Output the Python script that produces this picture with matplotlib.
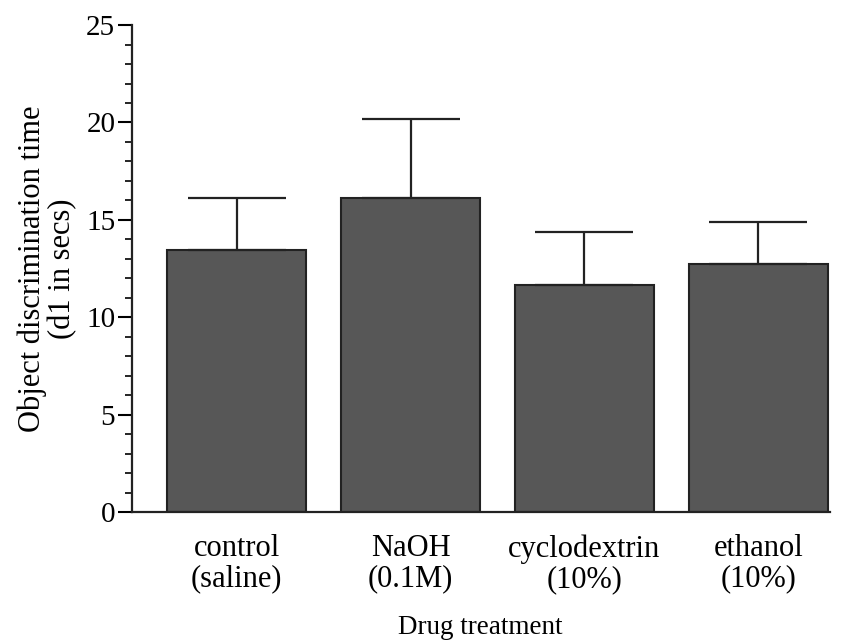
import matplotlib
matplotlib.use("Agg")
import matplotlib.pyplot as plt
from matplotlib.ticker import MultipleLocator

categories = ["control\n(saline)", "NaOH\n(0.1M)", "cyclodextrin\n(10%)", "ethanol\n(10%)"]
means = [13.45, 16.1, 11.63, 12.75]
errors = [2.65, 4.07, 2.74, 2.13]

plt.rcParams['font.family'] = ['Liberation Serif', 'DejaVu Serif']
fig = plt.figure(figsize=(8.58, 6.43), dpi=100)
ax = fig.add_axes([0.1538, 0.2037, 0.813, 0.7573])

x = list(range(len(categories)))
ax.bar(x, means, width=0.8, color='#575757', edgecolor='#222222', linewidth=1.5,
       yerr=[[0]*len(errors), errors], capsize=35,
       error_kw=dict(ecolor='#222222', elinewidth=1.6, capthick=1.6))

ax.set_xlim(-0.603, 3.41)
ax.set_ylim(0, 25)
ax.yaxis.set_major_locator(MultipleLocator(5))
ax.yaxis.set_minor_locator(MultipleLocator(1))
ax.set_xticks(x)
ax.set_xticklabels(categories, fontsize=22, linespacing=1.05)
ax.tick_params(axis='x', length=0, pad=16)
ax.tick_params(axis='y', which='major', length=10, width=1.5, labelsize=21, pad=2)
ax.tick_params(axis='y', which='minor', length=5, width=1.2)
for s in ['top', 'right']:
    ax.spines[s].set_visible(False)
for s in ['left', 'bottom']:
    ax.spines[s].set_linewidth(1.6)
    ax.spines[s].set_color('#222222')

ax.set_ylabel("Object discrimination time\n(d1 in secs)", fontsize=22, labelpad=6, linespacing=1.05)
ax.set_xlabel("Drug treatment", fontsize=19.5, labelpad=15)

fig.savefig("out.png", dpi=100)
